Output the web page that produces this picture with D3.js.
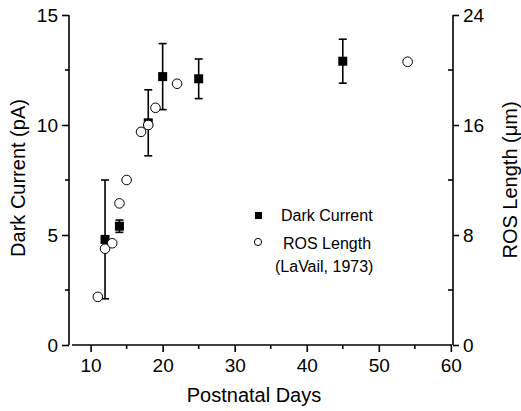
<!DOCTYPE html>
<html><head><meta charset="utf-8">
<script src="https://cdn.jsdelivr.net/npm/d3@7/dist/d3.min.js"></script>
<style>body{margin:0;background:#fff}svg{display:block;font-family:Arial,"Liberation Sans",sans-serif}</style>
</head><body><svg id="c" width="521" height="411"></svg>
<script>
// Dark current (pA), mean and SEM
const dcDays = [12, 14, 18, 20, 25, 45];
const dcMean = [4.8, 5.4, 10.1, 12.2, 12.1, 12.9];
const dcErr  = [2.7, 0.28, 1.5, 1.5, 0.9, 1.0];
// ROS length (um), LaVail 1973
const rosDays = [11, 12, 13, 14, 15, 17, 18, 19, 22, 54];
const rosLen  = [3.5, 7.0, 7.4, 10.3, 12.0, 15.5, 16.0, 17.25, 19.0, 20.6];
const xTicks = [10, 20, 30, 40, 50, 60];
const xMinor = [15, 25, 35, 45, 55];
const yLeftTicks = [0, 5, 10, 15];
const yLeftMinor = [2.5, 7.5, 12.5];
const yRightTicks = [0, 8, 16, 24];
const yRightMinor = [4, 12, 20];

const svg = d3.select("#c");
const L = 69, R = 453, T = 15, B = 345;
const x = d3.scaleLinear().domain([7, 60.3]).range([L, R]);
const yL = d3.scaleLinear().domain([0, 15]).range([B, T]);
const yR = d3.scaleLinear().domain([0, 24]).range([B, T]);
const fs = 19;

function style(g){ g.selectAll("path,line").attr("stroke","#000").attr("stroke-width",1.6); g.selectAll("text").attr("font-size",fs).attr("fill","#000"); }

// x axis
const gx = svg.append("g").attr("transform",`translate(0,${B})`);
gx.call(d3.axisBottom(x).tickValues(xTicks).tickSize(7).tickPadding(7).tickFormat(d3.format("d")));
gx.select(".domain").remove();
gx.append("line").attr("x1",L+3).attr("x2",R-1).attr("y1",0).attr("y2",0);
gx.selectAll(".mx").data(xMinor).join("line").attr("class","mx").attr("x1",d=>x(d)).attr("x2",d=>x(d)).attr("y1",0).attr("y2",4);
style(gx);

// left axis
const gl = svg.append("g").attr("transform",`translate(${L},0)`);
gl.call(d3.axisLeft(yL).tickValues(yLeftTicks).tickSize(7).tickPadding(4).tickFormat(d3.format("d")));
gl.select(".domain").remove();
gl.append("line").attr("x1",0).attr("x2",0).attr("y1",T).attr("y2",B);
gl.selectAll(".my").data(yLeftMinor).join("line").attr("class","my").attr("x1",-4).attr("x2",0).attr("y1",d=>yL(d)).attr("y2",d=>yL(d));
style(gl);

// right axis
const gr = svg.append("g").attr("transform",`translate(${R},0)`);
gr.call(d3.axisRight(yR).tickValues(yRightTicks).tickSize(6).tickPadding(4).tickFormat(d3.format("d")));
gr.select(".domain").remove();
gr.append("line").attr("x1",0).attr("x2",0).attr("y1",T).attr("y2",B);
gr.selectAll(".my").data(yRightMinor).join("line").attr("class","my").attr("x1",-5).attr("x2",0).attr("y1",d=>yR(d)).attr("y2",d=>yR(d));
style(gr);

// titles
svg.append("text").attr("x",254).attr("y",402).attr("text-anchor","middle").attr("font-size",20).text("Postnatal Days");
svg.append("text").attr("transform",`translate(25,178) rotate(-90)`).attr("text-anchor","middle").attr("font-size",20).text("Dark Current (pA)");
svg.append("text").attr("transform",`translate(517,180) rotate(-90)`).attr("text-anchor","middle").attr("font-size",20).text("ROS Length (μm)");

// error bars
const dc = dcDays.map((d,i)=>({d, m:dcMean[i], e:dcErr[i]}));
const eb = svg.append("g").attr("stroke","#000").attr("stroke-width",1.6);
dc.forEach(p=>{
  eb.append("line").attr("x1",x(p.d)).attr("x2",x(p.d)).attr("y1",yL(p.m-p.e)).attr("y2",yL(p.m+p.e));
  [p.m-p.e, p.m+p.e].forEach(v=>eb.append("line").attr("x1",x(p.d)-4).attr("x2",x(p.d)+4).attr("y1",yL(v)).attr("y2",yL(v)));
});
svg.append("g").selectAll("rect").data(dc).join("rect")
  .attr("x",p=>x(p.d)-4.5).attr("y",p=>yL(p.m)-4.5).attr("width",9).attr("height",9).attr("fill","#000");

// ROS circles
const ros = rosDays.map((d,i)=>({d, v:rosLen[i]}));
svg.append("g").selectAll("circle").data(ros).join("circle")
  .attr("cx",p=>x(p.d)).attr("cy",p=>yR(p.v)).attr("r",4.8).attr("fill","#fff").attr("stroke","#000").attr("stroke-width",1);

// legend
const lg = svg.append("g");
lg.append("rect").attr("x",255).attr("y",212).attr("width",7).attr("height",7).attr("fill","#000");
lg.append("text").attr("x",281).attr("y",221).attr("font-size",16).text("Dark Current");
lg.append("circle").attr("cx",258).attr("cy",242).attr("r",3.6).attr("fill","#fff").attr("stroke","#000").attr("stroke-width",1);
lg.append("text").attr("x",283).attr("y",249).attr("font-size",16).text("ROS Length");
lg.append("text").attr("x",275).attr("y",272).attr("font-size",16).text("(LaVail, 1973)");
</script></body></html>
